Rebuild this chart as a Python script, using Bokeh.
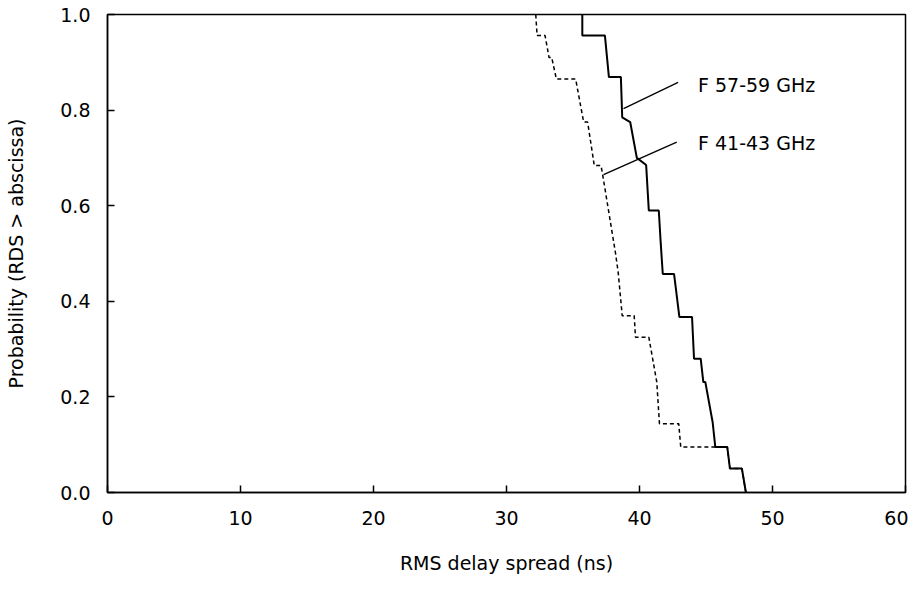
from bokeh.plotting import figure
from bokeh.models import Range1d, FixedTicker, ColumnDataSource
from bokeh.core.properties import value
from bokeh.embed import file_html
from bokeh.resources import INLINE

# 57-59 GHz (solid) complementary CDF vertices
f57_x = [35.7, 35.7, 37.4, 37.7, 38.6, 38.7, 39.3, 39.8, 40.5, 40.7, 41.45, 41.6, 41.75, 42.6, 43.0,
         43.95, 44.1, 44.6, 44.8, 44.95, 45.5, 45.7, 46.6, 46.8, 47.7, 48.0]
f57_y = [1.0, 0.956, 0.956, 0.869, 0.869, 0.785, 0.775, 0.70, 0.685, 0.59, 0.59, 0.52, 0.457, 0.457, 0.367,
         0.367, 0.28, 0.28, 0.231, 0.231, 0.147, 0.095, 0.095, 0.05, 0.05, 0.0]

# 41-43 GHz (dashed)
f41_x = [32.2, 32.3, 32.9, 33.2, 33.4, 33.75, 35.2, 35.8, 36.1, 36.6, 37.1, 37.2, 38.2, 38.4, 38.7,
         39.6, 39.7, 40.7, 41.3, 41.5, 42.95, 43.1, 45.7, 46.6, 46.8, 47.7, 48.0]
f41_y = [1.0, 0.956, 0.956, 0.91, 0.91, 0.865, 0.865, 0.775, 0.775, 0.684, 0.684, 0.67, 0.5, 0.46, 0.37,
         0.37, 0.325, 0.325, 0.231, 0.144, 0.144, 0.095, 0.095, 0.095, 0.05, 0.05, 0.0]

x_ticks = [0, 10, 20, 30, 40, 50, 60]
x_tick_labels = ["0", "10", "20", "30", "40", "50", "60"]
y_ticks = [0.0, 0.2, 0.4, 0.6, 0.8, 1.0]
y_tick_labels = ["0.0", "0.2", "0.4", "0.6", "0.8", "1.0"]

series_labels = ["F 57-59 GHz", "F 41-43 GHz"]
label_x = [44.4, 44.4]
label_y = [0.853, 0.732]
# leader lines: (from label end, to curve point)
leader_x0 = [42.9, 42.8]
leader_y0 = [0.858, 0.733]
leader_x1 = [38.8, 37.3]
leader_y1 = [0.803, 0.665]

FONT = "DejaVu Sans"

p = figure(width=908, height=577, output_backend="svg", toolbar_location=None,
           x_range=Range1d(0, 60), y_range=Range1d(0, 1),
           min_border_left=107, min_border_right=3, min_border_top=14, min_border_bottom=85)

p.xgrid.visible = False
p.ygrid.visible = False
p.outline_line_color = "black"
p.outline_line_width = 1.5
p.background_fill_color = "white"
p.border_fill_color = "white"

for ax in (p.xaxis[0], p.yaxis[0]):
    ax.major_tick_in = 7
    ax.major_tick_out = 0
    ax.minor_tick_in = 0
    ax.minor_tick_out = 0
    ax.axis_line_color = "black"
    ax.axis_line_width = 1.5
    ax.major_tick_line_color = "black"
    ax.major_tick_line_width = 1.5
    ax.major_label_text_font = FONT
    ax.major_label_text_font_size = "19px"
    ax.major_label_text_color = "black"
    ax.axis_label_text_font = FONT
    ax.axis_label_text_font_size = "19px"
    ax.axis_label_text_font_style = "normal"
    ax.axis_label_text_color = "black"

p.xaxis[0].ticker = FixedTicker(ticks=x_ticks)
p.xaxis[0].major_label_overrides = {t: s for t, s in zip(x_ticks, x_tick_labels)}
p.xaxis[0].major_label_standoff = 18
p.xaxis[0].axis_label = "RMS delay spread (ns)"
p.xaxis[0].axis_label_standoff = 24

p.yaxis[0].ticker = FixedTicker(ticks=y_ticks)
p.yaxis[0].major_label_overrides = {t: s for t, s in zip(y_ticks, y_tick_labels)}
p.yaxis[0].major_label_standoff = 17
p.yaxis[0].axis_label = "Probability (RDS > abscissa)"
p.yaxis[0].axis_label_standoff = 30

p.line(f57_x, f57_y, line_color="black", line_width=2)
p.line(f41_x, f41_y, line_color="black", line_width=1.5, line_dash="4 3")

p.segment(x0=leader_x0, y0=leader_y0, x1=leader_x1, y1=leader_y1, line_color="black", line_width=1.3)

src = ColumnDataSource(dict(x=label_x, y=label_y, t=series_labels))
p.text(x="x", y="y", text="t", source=src, text_font=value(FONT), text_font_size="19px",
       text_baseline="middle", text_align="left", text_color="black")

open("out.html", "w").write(file_html(p, INLINE))
